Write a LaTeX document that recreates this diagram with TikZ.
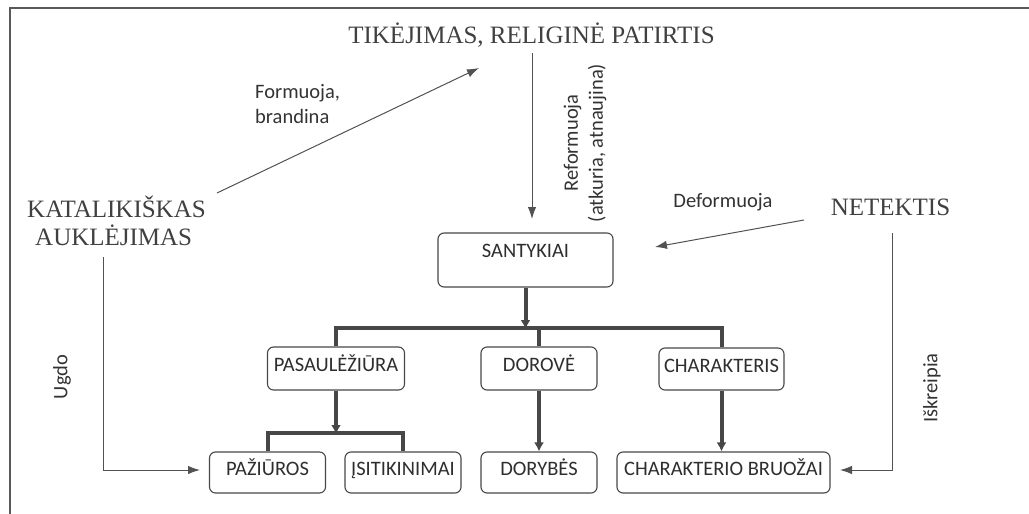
\documentclass[tikz,border=0pt]{standalone}
\usepackage{fontspec}
\setmainfont{Liberation Serif}
\newfontfamily\calfont{Carlito}
\usetikzlibrary{arrows.meta,calc}
\begin{document}
\begin{tikzpicture}[x=1pt,y=-1pt,
  box/.style={draw=black!72, rounded corners=6pt, line width=1.1pt, inner sep=0pt, font=\calfont\fontsize{20.5}{24}\selectfont, text=black!82, text height=13pt, text depth=7pt},
  big/.style={font=\fontsize{25}{28}\selectfont, text=black!75, inner sep=0pt},
  lbl/.style={font=\calfont\fontsize{20.5}{25}\selectfont, text=black!80, inner sep=0pt},
  conn/.style={draw=black!68, line width=1pt, -{Latex[length=12pt,width=8.5pt]}},
  tree/.style={draw=black!72, line width=4pt},
  treearrow/.style={draw=black!72, line width=4pt, -{Latex[length=9pt,width=10pt]}}]
\useasboundingbox (0,0) rectangle (1029,514);
% frame
\draw[black!65, line width=1.6pt] (10,514) -- (10,8) -- (1029,8);
% big titles
\node[big, anchor=base] (tik) at (531.5,43) {TIKĖJIMAS, RELIGINĖ PATIRTIS};
\node[big, align=left, anchor=base west] (kat) at (27,245) {KATALIKIŠKAS\\\hspace*{8pt}AUKLĖJIMAS};
\node[big, anchor=base] (net) at (890.5,215) {NETEKTIS};
% boxes
\node[box, minimum width=175pt, minimum height=54pt, text depth=19pt] (san) at (525.5,260) {SANTYKIAI};
\node[box, minimum width=137pt, minimum height=43pt] (pas) at (336,368.5) {PASAULĖŽIŪRA};
\node[box, minimum width=116pt, minimum height=43pt] (dor) at (539,368.5) {DOROVĖ};
\node[box, minimum width=125pt, minimum height=42pt] (cha) at (721.5,369) {CHARAKTERIS};
\node[box, minimum width=116pt, minimum height=41pt] (paz) at (267.5,472.5) {PAŽIŪROS};
\node[box, minimum width=116pt, minimum height=41pt] (isi) at (403,472.5) {ĮSITIKINIMAI};
\node[box, minimum width=116pt, minimum height=41pt] (dory) at (539,472.5) {DORYBĖS};
\node[box, minimum width=213pt, minimum height=41pt] (cb) at (723.5,472.5) {CHARAKTERIO BRUOŽAI};
% labels
\node[lbl, align=left, anchor=base west] (form) at (255,123) {Formuoja,\\brandina};
\node[lbl, rotate=90, align=center] (ref) at (585,143) {Reformuoja\\(atkuria, atnaujina)};
\node[lbl] (def) at (723,202) {Deformuoja};
\node[lbl, rotate=90] (ugd) at (62,377) {Ugdo};
\node[lbl, rotate=90] (isk) at (932,388) {Iškreipia};
% thin connectors
\coordinate (f1) at (217,193);
\coordinate (f2) at (479,68);
\draw[conn] (f1) -- (f2);
\coordinate (r1) at (532,53);
\coordinate (r2) at (532,219);
\draw[conn] (r1) -- (r2);
\coordinate (d1) at (804,220);
\coordinate (d2) at (655,247);
\draw[conn] (d1) -- (d2);
\coordinate (u1) at (103,257);
\coordinate (u2) at (200,470);
\draw[conn] (u1) |- (u2);
\coordinate (i1) at (892,233);
\coordinate (i2) at (840,470);
\draw[conn] (i1) |- (i2);
% tree
\coordinate (b0) at (525.5,329);
\draw[treearrow] (san.south) -- (b0);
\draw[tree] (pas.north) -- (336,328) -- (cha.north |- 0,328) -- (cha.north);
\draw[tree] (dor.north) -- (dor.north |- 0,328);
\coordinate (b1) at (336,434);
\draw[treearrow] (pas.south) -- (b1);
\draw[tree] (paz.north) -- (paz.north |- 0,433) -- (isi.north |- 0,433) -- (isi.north);
\draw[treearrow] (dor.south) -- (dory.north);
\draw[treearrow] (cha.south) -- (cb.north -| cha.south);
\end{tikzpicture}
\end{document}
